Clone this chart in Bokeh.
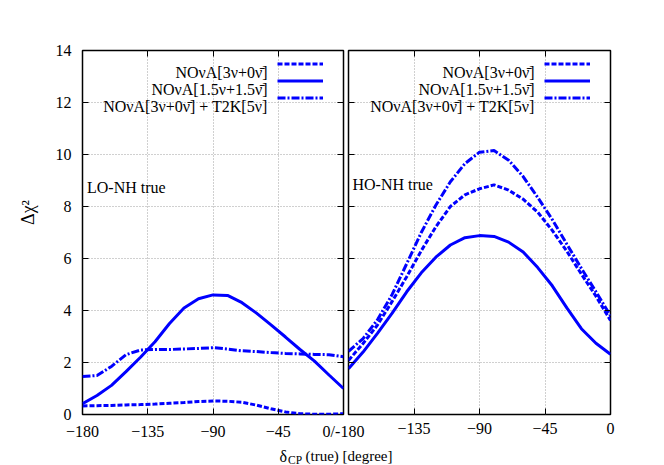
import numpy as np
from bokeh.plotting import figure
from bokeh.models import Range1d, LinearAxis, Label, Legend, LegendItem, FixedTicker
from bokeh.core.properties import value
from bokeh.layouts import row, column
from bokeh.embed import file_html
from bokeh.resources import INLINE

# ---------------- data ----------------
delta_cp = [-180, -170, -160, -150, -140, -130, -120, -110, -100, -90,
            -80, -70, -60, -50, -40, -30, -20, -10, 0]

# LO-NH true (left panel)
lo_nova_3_0 = [0.33, 0.34, 0.35, 0.37, 0.38, 0.40, 0.43, 0.46, 0.50, 0.52,
               0.51, 0.47, 0.36, 0.22, 0.10, 0.03, 0.01, 0.01, 0.03]
lo_nova_15_15 = [0.42, 0.73, 1.12, 1.65, 2.20, 2.80, 3.50, 4.10, 4.45, 4.60,
                 4.58, 4.30, 3.90, 3.45, 2.98, 2.50, 2.05, 1.52, 1.00]
lo_nova_t2k = [1.46, 1.50, 1.85, 2.30, 2.48, 2.50, 2.50, 2.52, 2.54, 2.57,
               2.52, 2.45, 2.42, 2.38, 2.35, 2.33, 2.31, 2.30, 2.22]

# HO-NH true (right panel)
ho_nova_3_0 = [2.08, 2.73, 3.45, 4.35, 5.30, 6.30, 7.22, 8.00, 8.45, 8.68,
               8.83, 8.63, 8.28, 7.78, 7.08, 6.28, 5.40, 4.55, 3.62]
ho_nova_15_15 = [1.76, 2.40, 3.13, 3.90, 4.72, 5.45, 6.05, 6.52, 6.80, 6.88,
                 6.85, 6.63, 6.25, 5.65, 4.95, 4.10, 3.30, 2.74, 2.32]
ho_nova_t2k = [2.43, 2.92, 3.65, 4.62, 5.80, 7.00, 8.05, 8.95, 9.65, 10.09,
               10.15, 9.78, 9.15, 8.35, 7.50, 6.55, 5.62, 4.72, 3.80]

x_ticks = [-180, -135, -90, -45, 0]
y_ticks = [0, 2, 4, 6, 8, 10, 12, 14]
legend_labels = ["NOνA[3ν+0ν̄]", "NOνA[1.5ν+1.5ν̄]", "NOνA[3ν+0ν̄] + T2K[5ν]"]
panel_titles = ["LO-NH true", "HO-NH true"]

# ---------------- style ----------------
BLUE = "#0000ff"
FONT = "Liberation Serif"
FS = "16px"
TOP, BOTTOM = 50, 31
FRAME_H = 364
H = TOP + FRAME_H + BOTTOM       # 445
W0 = 45                           # strip holding the y title
L1, F1, R1 = 37, 261, 22          # left panel
OVERLAP = 20                      # right panel slides under left panel's right border
L2, F2, R2 = 3, 262, 30           # right panel
W3, H3 = 640, 20                  # strip holding the x title


def style_axis(ax, ticks, labels=True, standoff=0):
    ax.ticker = FixedTicker(ticks=ticks)
    ax.major_tick_in = 6
    ax.major_tick_out = 0
    ax.minor_tick_in = 0
    ax.minor_tick_out = 0
    ax.major_tick_line_color = "black"
    ax.major_tick_line_width = 1
    ax.axis_line_color = None
    ax.major_label_text_font = FONT
    ax.major_label_text_color = "black"
    ax.major_label_text_font_size = FS
    ax.major_label_standoff = standoff
    if not labels:
        ax.major_label_overrides = {t: "" for t in ticks}
        ax.major_label_standoff = 0


def make_panel(width, left, right, series, ylabels):
    p = figure(width=width, height=H, x_range=Range1d(-180, 0), y_range=Range1d(0, 14),
               output_backend="svg", toolbar_location=None,
               min_border_left=left, min_border_right=right,
               min_border_top=TOP, min_border_bottom=BOTTOM)
    p.outline_line_color = "black"
    p.outline_line_width = 1.5
    p.background_fill_color = "white"
    p.border_fill_color = "white"

    bottom_ax = p.below[0]
    left_ax = p.left[0]
    style_axis(bottom_ax, x_ticks, True, 8)
    style_axis(left_ax, y_ticks, ylabels, 11)

    top_ax = LinearAxis()
    right_ax = LinearAxis()
    style_axis(top_ax, x_ticks, False)
    style_axis(right_ax, y_ticks, False)
    p.add_layout(top_ax, "above")
    p.add_layout(right_ax, "right")

    for g in (p.xgrid, p.ygrid):
        g.grid_line_color = "#a0a0a0"
        g.grid_line_dash = "1 2"
        g.grid_line_width = 1
    p.xgrid.ticker = FixedTicker(ticks=x_ticks)
    p.ygrid.ticker = FixedTicker(ticks=y_ticks)

    dashes = ["5 2", "solid", "8 2 2 2"]
    rs = []
    for ys, d in zip(series, dashes):
        rs.append(p.line(delta_cp, ys, line_color=BLUE, line_width=3, line_dash=d))

    legend = Legend(items=[LegendItem(label=value(" "), renderers=[r]) for r in rs],
                    location="top_right", margin=5, padding=0, spacing=0,
                    glyph_width=46, glyph_height=17, label_width=15, label_height=17,
                    label_standoff=0, label_text_font_size="1px",
                    background_fill_alpha=0, border_line_color=None)
    p.add_layout(legend)
    for i, lab in enumerate(legend_labels):
        p.add_layout(Label(x=0, y=14, x_offset=-76, y_offset=-22 - 17 * i, text=lab,
                           text_align="right", text_baseline="alphabetic",
                           text_font=FONT, text_font_size=FS, text_color="black"))
    return p, bottom_ax


p1, p1_bottom = make_panel(L1 + F1 + R1, L1, R1, [lo_nova_3_0, lo_nova_15_15, lo_nova_t2k], True)
p2, p2_bottom = make_panel(L2 + F2 + R2, L2, R2, [ho_nova_3_0, ho_nova_15_15, ho_nova_t2k], False)

p1_bottom.major_label_overrides = {0: "0/-180"}
p2_bottom.major_label_overrides = {-180: ""}
p2.border_fill_alpha = 0
p2.margin = (0, 0, 0, -OVERLAP)

# panel titles
p1.add_layout(Label(x=-180, y=8.72, x_offset=4.5, text=panel_titles[0], text_align="left",
                    text_baseline="alphabetic", text_font=FONT, text_font_size=FS,
                    text_color="black"))
p2.add_layout(Label(x=-180, y=8.85, x_offset=4, text=panel_titles[1], text_align="left",
                    text_baseline="alphabetic", text_font=FONT, text_font_size=FS,
                    text_color="black"))


def strip(width, height):
    s = figure(width=width, height=height, x_range=Range1d(0, width), y_range=Range1d(0, height),
               x_axis_type=None, y_axis_type=None, output_backend="svg", toolbar_location=None,
               min_border_left=0, min_border_right=0, min_border_top=0, min_border_bottom=0)
    s.outline_line_color = None
    s.xgrid.visible = False
    s.ygrid.visible = False
    return s


# y title strip
p0 = strip(W0, H)
p0.add_layout(Label(x=27, y=H - 198, angle=np.pi / 2, text="Δχ²",
                    text_align="center", text_baseline="middle",
                    text_font=FONT, text_font_size="18px", text_color="black"))

# x title strip
p3 = strip(W3, H3)
p3.add_layout(Label(x=279, y=H3 - (455.5 - H), text="δ", text_align="left",
                    text_baseline="alphabetic", text_font=FONT, text_font_size="16px",
                    text_color="black"))
p3.add_layout(Label(x=287.5, y=H3 - (459.5 - H), text="CP", text_align="left",
                    text_baseline="alphabetic", text_font=FONT, text_font_size="11.5px",
                    text_color="black"))
p3.add_layout(Label(x=305, y=H3 - (455.5 - H), text="(true) [degree]", text_align="left",
                    text_baseline="alphabetic", text_font=FONT, text_font_size="15px",
                    text_color="black"))

layout = column(row(p0, p1, p2), p3)
open("out.html", "w").write(file_html(layout, INLINE))
